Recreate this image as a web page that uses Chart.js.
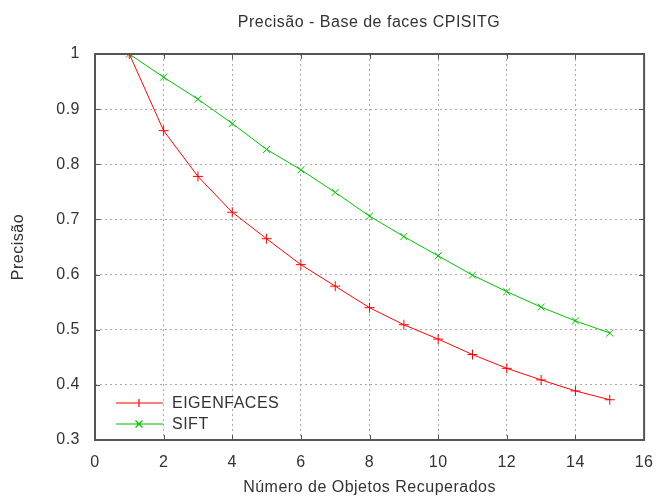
<!DOCTYPE html>
<html>
<head>
<meta charset="utf-8">
<script src="https://cdn.jsdelivr.net/npm/chart.js@4"></script>
<style>
  html, body { margin: 0; padding: 0; background: #fff; }
  #wrap { width: 666px; height: 498px; }
</style>
</head>
<body>
<div id="wrap"><canvas id="chart" width="666" height="498"></canvas></div>
<script>
// objetos recuperados (eixo x)
const numObjetos = [1, 2, 3, 4, 5, 6, 7, 8, 9, 10, 11, 12, 13, 14, 15];
const eigenfaces = [1.0, 0.861, 0.778, 0.713, 0.665, 0.618, 0.579, 0.540, 0.509, 0.483, 0.455, 0.430, 0.409, 0.389, 0.373];
const sift = [1.0, 0.958, 0.918, 0.874, 0.827, 0.790, 0.749, 0.706, 0.669, 0.634, 0.599, 0.569, 0.541, 0.516, 0.494];
const xTicks = [0, 2, 4, 6, 8, 10, 12, 14, 16];
const yTicks = [0.3, 0.4, 0.5, 0.6, 0.7, 0.8, 0.9, 1];

const FONT = 'Liberation Sans, Arial, sans-serif';
const FSIZE = 16;
const TXT = '#333';
const RED = '#ff0000';
const GREEN = '#00c000';

const toPoints = (ys) => numObjetos.map((x, i) => ({ x: x, y: ys[i] }));

// texto do gnuplot e um pouco mais espacado
const spacing = {
  id: 'spacing',
  beforeDraw(chart) { chart.ctx.letterSpacing = '0.5px'; }
};

// moldura com marcas para dentro (estilo gnuplot), titulo e legenda
const frame = {
  id: 'frame',
  afterDraw(chart) {
    const { ctx, chartArea: a, scales } = chart;
    ctx.save();
    ctx.strokeStyle = '#555';
    ctx.lineWidth = 1;
    xTicks.forEach((v) => {
      const px = Math.round(scales.x.getPixelForValue(v)) + 0.5;
      ctx.beginPath();
      ctx.moveTo(px, a.bottom); ctx.lineTo(px, a.bottom - 5);
      ctx.moveTo(px, a.top); ctx.lineTo(px, a.top + 5);
      ctx.stroke();
    });
    yTicks.forEach((v) => {
      const py = Math.round(scales.y.getPixelForValue(v)) + 0.5;
      ctx.beginPath();
      ctx.moveTo(a.left, py); ctx.lineTo(a.left + 5, py);
      ctx.moveTo(a.right, py); ctx.lineTo(a.right - 5, py);
      ctx.stroke();
    });
    ctx.lineWidth = 2;
    ctx.strokeRect(a.left, a.top, a.right - a.left, a.bottom - a.top);

    // titulo
    ctx.letterSpacing = '0.5px';
    ctx.fillStyle = TXT;
    ctx.font = FSIZE + 'px ' + FONT;
    ctx.textAlign = 'center';
    ctx.textBaseline = 'middle';
    ctx.fillText('Precisão - Base de faces CPISITG', 369, 23);

    // legenda
    ctx.textAlign = 'left';
    const cols = [RED, GREEN];
    chart.data.datasets.forEach((ds, i) => {
      const y = 403 + i * 21;
      const cx = 139;
      ctx.strokeStyle = cols[i];
      ctx.lineWidth = 1.2;
      ctx.beginPath();
      ctx.moveTo(116, y); ctx.lineTo(163, y);
      if (i === 0) {
        ctx.moveTo(cx, y - 4); ctx.lineTo(cx, y + 4);
      } else {
        ctx.moveTo(cx - 3.5, y - 3.5); ctx.lineTo(cx + 3.5, y + 3.5);
        ctx.moveTo(cx - 3.5, y + 3.5); ctx.lineTo(cx + 3.5, y - 3.5);
      }
      ctx.stroke();
      ctx.fillStyle = TXT;
      ctx.fillText(ds.label, 172, y + 1);
    });
    ctx.restore();
  }
};

new Chart(document.getElementById('chart').getContext('2d'), {
  type: 'line',
  data: {
    datasets: [{
      label: 'EIGENFACES',
      data: toPoints(eigenfaces),
      borderColor: RED,
      backgroundColor: RED,
      borderWidth: 1,
      pointStyle: 'cross',
      pointRadius: 5,
      pointBorderWidth: 1,
      tension: 0
    }, {
      label: 'SIFT',
      data: toPoints(sift),
      borderColor: GREEN,
      backgroundColor: GREEN,
      borderWidth: 1,
      pointStyle: 'crossRot',
      pointRadius: 5,
      pointBorderWidth: 1,
      tension: 0
    }]
  },
  options: {
    responsive: false,
    animation: false,
    layout: { padding: { top: 54, right: 11, left: 0, bottom: 0 } },
    plugins: {
      legend: { display: false },
      tooltip: { enabled: false }
    },
    scales: {
      x: {
        type: 'linear',
        min: 0,
        max: 16,
        afterFit: (s) => { s.height = 58; },
        afterBuildTicks: (s) => { s.ticks = xTicks.map((v) => ({ value: v })); },
        grid: { color: '#aaa', drawTicks: false },
        border: { display: false, dash: [2, 3] },
        ticks: { padding: 13, color: TXT, font: { family: FONT, size: FSIZE } },
        title: { display: true, text: 'Número de Objetos Recuperados', color: TXT, font: { family: FONT, size: FSIZE }, padding: { top: 0, bottom: 1 } }
      },
      y: {
        min: 0.3,
        max: 1,
        afterFit: (s) => { s.width = 95; },
        afterBuildTicks: (s) => { s.ticks = yTicks.map((v) => ({ value: v })); },
        grid: { color: '#aaa', drawTicks: false },
        border: { display: false, dash: [2, 3] },
        ticks: { padding: 15, color: TXT, font: { family: FONT, size: FSIZE }, callback: (v) => String(Math.round(v * 10) / 10) },
        title: { display: true, text: 'Precisão', color: TXT, font: { family: FONT, size: FSIZE }, padding: { top: 9, bottom: 0 } }
      }
    }
  },
  plugins: [spacing, frame]
});
</script>
</body>
</html>
